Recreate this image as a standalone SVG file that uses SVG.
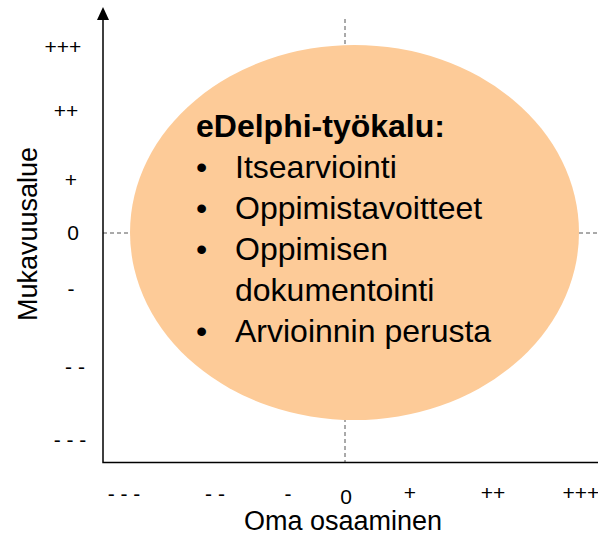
<svg xmlns="http://www.w3.org/2000/svg" width="598" height="538" viewBox="0 0 598 538">
<defs>
<style>
.ax{stroke:#000;stroke-width:1.5;fill:none}
.dash{stroke:#555;stroke-width:1;stroke-dasharray:4 3;fill:none}
.tick{font-family:"Liberation Sans",Arial,sans-serif;font-size:21px;fill:#000;text-anchor:middle}
.title{font-family:"Liberation Sans",Arial,sans-serif;font-size:27px;fill:#000;text-anchor:middle}
.body{font-family:"Liberation Sans",Arial,sans-serif;font-size:32px;fill:#000}
</style>
</defs>
<rect width="598" height="538" fill="#fff"/>
<g id="grid">
<line class="dash" x1="345" y1="19" x2="345" y2="462"/>
<line class="dash" x1="103" y1="233" x2="598" y2="233"/>
</g>
<g id="ellipse-node">
<ellipse cx="354.5" cy="232.5" rx="224.5" ry="187.5" fill="#FDCB98"/>
<text class="body" x="196" y="137" font-size="31" font-weight="bold">eDelphi-työkalu:</text>
<text class="body" x="196" y="178">•</text><text class="body" x="235" y="178">Itsearviointi</text>
<text class="body" x="196" y="219">•</text><text class="body" x="235" y="219">Oppimistavoitteet</text>
<text class="body" x="196" y="260">•</text><text class="body" x="235" y="260">Oppimisen</text>
<text class="body" x="235" y="301">dokumentointi</text>
<text class="body" x="196" y="342">•</text><text class="body" x="235" y="342">Arvioinnin perusta</text>
</g>
<g id="axes">
<polyline class="ax" points="103,18 103,462.5 598,462.5"/>
<polygon points="103,7 97,20 109,20" fill="#000"/>
</g>
<g id="y-labels">
<text class="tick" x="63" y="54">+++</text>
<text class="tick" x="66" y="118">++</text>
<text class="tick" x="71" y="187">+</text>
<text class="tick" x="73" y="240">0</text>
<text class="tick" x="71" y="296">-</text>
<text class="tick" x="75" y="374">- -</text>
<text class="tick" x="70" y="447">- - -</text>
<text class="title" transform="translate(37,234) rotate(-90)">Mukavuusalue</text>
</g>
<g id="x-labels">
<text class="tick" x="124" y="501">- - -</text>
<text class="tick" x="215" y="501">- -</text>
<text class="tick" x="288" y="501">-</text>
<text class="tick" x="346" y="504">0</text>
<text class="tick" x="410" y="500">+</text>
<text class="tick" x="493" y="500">++</text>
<text class="tick" x="581" y="500">+++</text>
<text class="title" x="343" y="530">Oma osaaminen</text>
</g>
</svg>
